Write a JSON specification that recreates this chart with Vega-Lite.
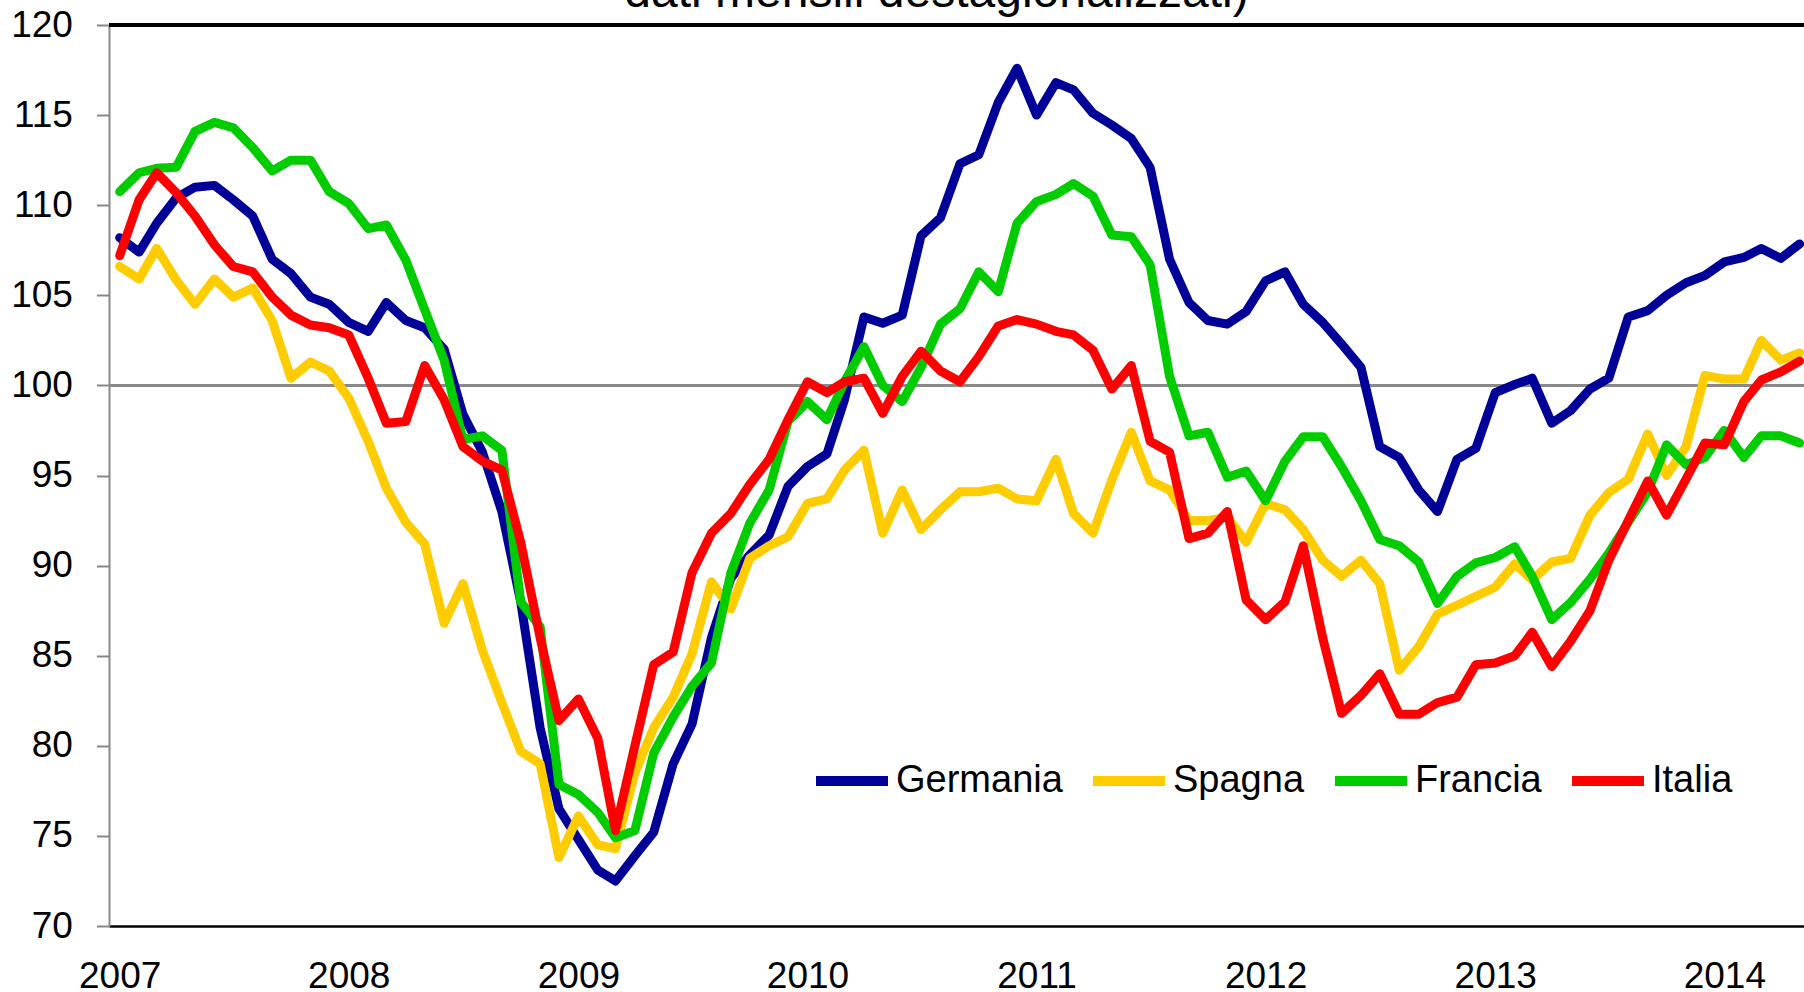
{
  "$schema": "https://vega.github.io/schema/vega-lite/v6.json",
  "width": 1695,
  "height": 901,
  "autosize": {"type": "none"},
  "padding": {"left": 109, "top": 25, "right": 0, "bottom": 66},
  "background": "white",
  "title": {"text": "dati mensili destagionalizzati)", "fontSize": 48, "font": "Liberation Sans", "fontWeight": "normal", "color": "black", "anchor": "middle", "frame": "group", "dx": -20, "dy": 49, "baseline": "alphabetic", "offset": 0},
  "config": {"view": {"stroke": null}, "font": "Liberation Sans"},
  "data": {"values": [
    {"mese": "2007-01-01", "Germania": 108.2, "Spagna": 106.6, "Francia": 110.75, "Italia": 107.2},
    {"mese": "2007-02-01", "Germania": 107.4, "Spagna": 105.9, "Francia": 111.8, "Italia": 110.3},
    {"mese": "2007-03-01", "Germania": 109.0, "Spagna": 107.6, "Francia": 112.05, "Italia": 111.8},
    {"mese": "2007-04-01", "Germania": 110.4, "Spagna": 105.85, "Francia": 112.1, "Italia": 110.7},
    {"mese": "2007-05-01", "Germania": 111.0, "Spagna": 104.5, "Francia": 114.1, "Italia": 109.4},
    {"mese": "2007-06-01", "Germania": 111.1, "Spagna": 105.9, "Francia": 114.6, "Italia": 107.8},
    {"mese": "2007-07-01", "Germania": 110.3, "Spagna": 104.9, "Francia": 114.3, "Italia": 106.6},
    {"mese": "2007-08-01", "Germania": 109.4, "Spagna": 105.4, "Francia": 113.2, "Italia": 106.3},
    {"mese": "2007-09-01", "Germania": 107.0, "Spagna": 103.6, "Francia": 111.9, "Italia": 104.9},
    {"mese": "2007-10-01", "Germania": 106.2, "Spagna": 100.4, "Francia": 112.5, "Italia": 103.9},
    {"mese": "2007-11-01", "Germania": 104.9, "Spagna": 101.3, "Francia": 112.5, "Italia": 103.35},
    {"mese": "2007-12-01", "Germania": 104.5, "Spagna": 100.8, "Francia": 110.75, "Italia": 103.2},
    {"mese": "2008-01-01", "Germania": 103.5, "Spagna": 99.3, "Francia": 110.1, "Italia": 102.8},
    {"mese": "2008-02-01", "Germania": 103.0, "Spagna": 96.9, "Francia": 108.7, "Italia": 100.4},
    {"mese": "2008-03-01", "Germania": 104.6, "Spagna": 94.3, "Francia": 108.9, "Italia": 97.9},
    {"mese": "2008-04-01", "Germania": 103.6, "Spagna": 92.4, "Francia": 106.95, "Italia": 98.0},
    {"mese": "2008-05-01", "Germania": 103.2, "Spagna": 91.2, "Francia": 104.2, "Italia": 101.1},
    {"mese": "2008-06-01", "Germania": 102.0, "Spagna": 86.8, "Francia": 101.4, "Italia": 99.2},
    {"mese": "2008-07-01", "Germania": 98.4, "Spagna": 89.0, "Francia": 97.0, "Italia": 96.6},
    {"mese": "2008-08-01", "Germania": 96.3, "Spagna": 85.3, "Francia": 97.2, "Italia": 95.8},
    {"mese": "2008-09-01", "Germania": 93.0, "Spagna": 82.4, "Francia": 96.4, "Italia": 95.3},
    {"mese": "2008-10-01", "Germania": 88.0, "Spagna": 79.7, "Francia": 88.0, "Italia": 91.3},
    {"mese": "2008-11-01", "Germania": 81.0, "Spagna": 79.0, "Francia": 86.6, "Italia": 86.0},
    {"mese": "2008-12-01", "Germania": 76.5, "Spagna": 73.8, "Francia": 77.85, "Italia": 81.4},
    {"mese": "2009-01-01", "Germania": 74.8, "Spagna": 76.1, "Francia": 77.3, "Italia": 82.6},
    {"mese": "2009-02-01", "Germania": 73.1, "Spagna": 74.5, "Francia": 76.3, "Italia": 80.4},
    {"mese": "2009-03-01", "Germania": 72.5, "Spagna": 74.3, "Francia": 74.9, "Italia": 75.3},
    {"mese": "2009-04-01", "Germania": 73.9, "Spagna": 78.5, "Francia": 75.3, "Italia": 80.0},
    {"mese": "2009-05-01", "Germania": 75.2, "Spagna": 81.0, "Francia": 79.6, "Italia": 84.5},
    {"mese": "2009-06-01", "Germania": 79.0, "Spagna": 82.7, "Francia": 81.6, "Italia": 85.2},
    {"mese": "2009-07-01", "Germania": 81.2, "Spagna": 85.1, "Francia": 83.3, "Italia": 89.6},
    {"mese": "2009-08-01", "Germania": 86.0, "Spagna": 89.1, "Francia": 84.6, "Italia": 91.8},
    {"mese": "2009-09-01", "Germania": 89.3, "Spagna": 87.6, "Francia": 89.6, "Italia": 92.9},
    {"mese": "2009-10-01", "Germania": 90.6, "Spagna": 90.4, "Francia": 92.35, "Italia": 94.5},
    {"mese": "2009-11-01", "Germania": 91.7, "Spagna": 91.1, "Francia": 94.2, "Italia": 95.9},
    {"mese": "2009-12-01", "Germania": 94.4, "Spagna": 91.6, "Francia": 98.0, "Italia": 98.1},
    {"mese": "2010-01-01", "Germania": 95.5, "Spagna": 93.45, "Francia": 99.1, "Italia": 100.2},
    {"mese": "2010-02-01", "Germania": 96.2, "Spagna": 93.7, "Francia": 98.1, "Italia": 99.6},
    {"mese": "2010-03-01", "Germania": 99.2, "Spagna": 95.3, "Francia": 100.2, "Italia": 100.2},
    {"mese": "2010-04-01", "Germania": 103.8, "Spagna": 96.4, "Francia": 102.15, "Italia": 100.4},
    {"mese": "2010-05-01", "Germania": 103.45, "Spagna": 91.8, "Francia": 100.0, "Italia": 98.45},
    {"mese": "2010-06-01", "Germania": 103.9, "Spagna": 94.2, "Francia": 99.1, "Italia": 100.5},
    {"mese": "2010-07-01", "Germania": 108.3, "Spagna": 92.0, "Francia": 101.0, "Italia": 101.9},
    {"mese": "2010-08-01", "Germania": 109.3, "Spagna": 93.1, "Francia": 103.4, "Italia": 100.8},
    {"mese": "2010-09-01", "Germania": 112.3, "Spagna": 94.1, "Francia": 104.25, "Italia": 100.2},
    {"mese": "2010-10-01", "Germania": 112.8, "Spagna": 94.1, "Francia": 106.3, "Italia": 101.6},
    {"mese": "2010-11-01", "Germania": 115.7, "Spagna": 94.3, "Francia": 105.2, "Italia": 103.3},
    {"mese": "2010-12-01", "Germania": 117.6, "Spagna": 93.7, "Francia": 109.0, "Italia": 103.65},
    {"mese": "2011-01-01", "Germania": 115.0, "Spagna": 93.6, "Francia": 110.2, "Italia": 103.4},
    {"mese": "2011-02-01", "Germania": 116.8, "Spagna": 95.9, "Francia": 110.6, "Italia": 103.0},
    {"mese": "2011-03-01", "Germania": 116.4, "Spagna": 92.9, "Francia": 111.2, "Italia": 102.8},
    {"mese": "2011-04-01", "Germania": 115.1, "Spagna": 91.8, "Francia": 110.5, "Italia": 101.95},
    {"mese": "2011-05-01", "Germania": 114.45, "Spagna": 94.75, "Francia": 108.35, "Italia": 99.8},
    {"mese": "2011-06-01", "Germania": 113.7, "Spagna": 97.4, "Francia": 108.25, "Italia": 101.1},
    {"mese": "2011-07-01", "Germania": 112.1, "Spagna": 94.7, "Francia": 106.7, "Italia": 96.9},
    {"mese": "2011-08-01", "Germania": 107.0, "Spagna": 94.2, "Francia": 100.5, "Italia": 96.3},
    {"mese": "2011-09-01", "Germania": 104.6, "Spagna": 92.5, "Francia": 97.2, "Italia": 91.5},
    {"mese": "2011-10-01", "Germania": 103.6, "Spagna": 92.5, "Francia": 97.4, "Italia": 91.8},
    {"mese": "2011-11-01", "Germania": 103.4, "Spagna": 92.7, "Francia": 94.9, "Italia": 93.0},
    {"mese": "2011-12-01", "Germania": 104.1, "Spagna": 91.3, "Francia": 95.25, "Italia": 88.1},
    {"mese": "2012-01-01", "Germania": 105.8, "Spagna": 93.45, "Francia": 93.6, "Italia": 87.0},
    {"mese": "2012-02-01", "Germania": 106.3, "Spagna": 93.1, "Francia": 95.8, "Italia": 88.0},
    {"mese": "2012-03-01", "Germania": 104.5, "Spagna": 92.0, "Francia": 97.15, "Italia": 91.1},
    {"mese": "2012-04-01", "Germania": 103.5, "Spagna": 90.3, "Francia": 97.15, "Italia": 86.0},
    {"mese": "2012-05-01", "Germania": 102.3, "Spagna": 89.4, "Francia": 95.5, "Italia": 81.8},
    {"mese": "2012-06-01", "Germania": 101.0, "Spagna": 90.3, "Francia": 93.6, "Italia": 82.8},
    {"mese": "2012-07-01", "Germania": 96.6, "Spagna": 89.0, "Francia": 91.45, "Italia": 84.0},
    {"mese": "2012-08-01", "Germania": 96.0, "Spagna": 84.2, "Francia": 91.1, "Italia": 81.75},
    {"mese": "2012-09-01", "Germania": 94.2, "Spagna": 85.5, "Francia": 90.2, "Italia": 81.75},
    {"mese": "2012-10-01", "Germania": 93.0, "Spagna": 87.3, "Francia": 87.9, "Italia": 82.4},
    {"mese": "2012-11-01", "Germania": 95.9, "Spagna": 87.8, "Francia": 89.4, "Italia": 82.7},
    {"mese": "2012-12-01", "Germania": 96.5, "Spagna": 88.3, "Francia": 90.15, "Italia": 84.5},
    {"mese": "2013-01-01", "Germania": 99.6, "Spagna": 88.8, "Francia": 90.45, "Italia": 84.6},
    {"mese": "2013-02-01", "Germania": 100.05, "Spagna": 90.1, "Francia": 91.05, "Italia": 85.0},
    {"mese": "2013-03-01", "Germania": 100.4, "Spagna": 89.2, "Francia": 89.4, "Italia": 86.3},
    {"mese": "2013-04-01", "Germania": 97.9, "Spagna": 90.2, "Francia": 87.0, "Italia": 84.4},
    {"mese": "2013-05-01", "Germania": 98.6, "Spagna": 90.4, "Francia": 87.95, "Italia": 85.8},
    {"mese": "2013-06-01", "Germania": 99.8, "Spagna": 92.8, "Francia": 89.25, "Italia": 87.5},
    {"mese": "2013-07-01", "Germania": 100.4, "Spagna": 94.05, "Francia": 90.7, "Italia": 90.3},
    {"mese": "2013-08-01", "Germania": 103.8, "Spagna": 94.8, "Francia": 92.4, "Italia": 92.5},
    {"mese": "2013-09-01", "Germania": 104.15, "Spagna": 97.3, "Francia": 94.1, "Italia": 94.7},
    {"mese": "2013-10-01", "Germania": 105.0, "Spagna": 95.0, "Francia": 96.7, "Italia": 92.8},
    {"mese": "2013-11-01", "Germania": 105.7, "Spagna": 96.6, "Francia": 95.6, "Italia": 94.8},
    {"mese": "2013-12-01", "Germania": 106.1, "Spagna": 100.55, "Francia": 96.0, "Italia": 96.8},
    {"mese": "2014-01-01", "Germania": 106.85, "Spagna": 100.35, "Francia": 97.5, "Italia": 96.7},
    {"mese": "2014-02-01", "Germania": 107.1, "Spagna": 100.35, "Francia": 96.0, "Italia": 99.1},
    {"mese": "2014-03-01", "Germania": 107.6, "Spagna": 102.5, "Francia": 97.2, "Italia": 100.3},
    {"mese": "2014-04-01", "Germania": 107.05, "Spagna": 101.4, "Francia": 97.2, "Italia": 100.75},
    {"mese": "2014-05-01", "Germania": 107.85, "Spagna": 101.8, "Francia": 96.8, "Italia": 101.35}
  ]},
  "transform": [{"fold": ["Germania", "Spagna", "Francia", "Italia"], "as": ["paese", "valore"]}],
  "layer": [
    {
      "mark": {"type": "rule", "color": "#898989", "strokeWidth": 2},
      "encoding": {"y": {"datum": 100, "type": "quantitative"}}
    },
    {
      "mark": {"type": "line", "strokeWidth": 9, "strokeJoin": "round", "strokeCap": "round"},
      "encoding": {
        "x": {
          "field": "mese", "type": "temporal",
          "scale": {"type": "utc", "domain": [{"year": 2006, "month": 12, "date": 15, "utc": true}, {"year": 2014, "month": 5, "date": 8, "utc": true}]},
          "axis": {"format": "%Y", "tickCount": {"interval": "year", "step": 1}, "ticks": false, "tickSize": 0, "labelPadding": 32, "labelFontSize": 37, "labelFont": "Liberation Sans", "labelColor": "black", "domainColor": "black", "domainWidth": 2.5, "grid": false, "title": null, "labelFlush": false, "labelOverlap": false, "labelBound": false}
        },
        "y": {
          "field": "valore", "type": "quantitative",
          "scale": {"domain": [70, 120], "nice": false, "zero": false},
          "axis": {"values": [70, 75, 80, 85, 90, 95, 100, 105, 110, 115, 120], "tickSize": 12.6, "tickWidth": 2, "tickColor": "#898989", "domainColor": "#898989", "domainWidth": 2, "labelPadding": 24, "labelFontSize": 37, "labelFont": "Liberation Sans", "labelColor": "black", "grid": false, "title": null, "labelFlush": false, "labelOverlap": false, "labelBound": false}
        },
        "color": {
          "field": "paese", "type": "nominal",
          "scale": {"domain": ["Germania", "Spagna", "Francia", "Italia"], "range": ["#000099", "#FFCC00", "#00CC00", "#FF0000"]},
          "legend": {"orient": "none", "legendX": 702, "legendY": 715, "direction": "horizontal", "title": null, "symbolType": "stroke", "symbolSize": 5184, "symbolStrokeWidth": 10, "labelFontSize": 38, "labelFont": "Liberation Sans", "labelColor": "black", "labelOffset": 3, "columnPadding": 10, "padding": 0, "labelLimit": 0}
        }
      }
    },
    {
      "mark": {"type": "rule", "color": "black", "strokeWidth": 2.5},
      "encoding": {"y": {"datum": 120, "type": "quantitative"}}
    }
  ]
}
